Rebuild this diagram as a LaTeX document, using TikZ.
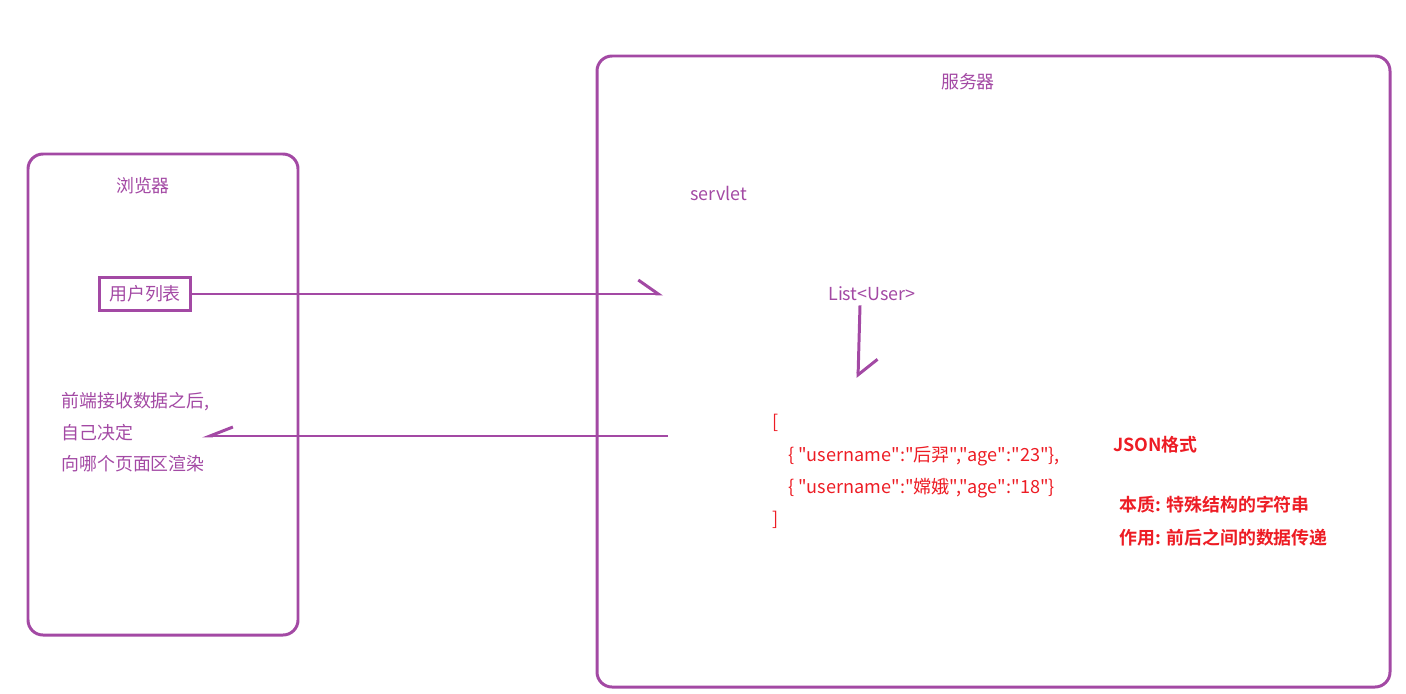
\documentclass[tikz,border=0pt]{standalone}
\usepackage{fontspec}
\setmainfont{Noto Sans CJK SC}[BoldFont={Noto Sans CJK SC Bold}]
\newfontfamily\jsonfont{Noto Sans CJK SC}[Ligatures=ResetAll]
\usetikzlibrary{arrows.meta}

\definecolor{paintpurple}{RGB}{163,73,164}
\definecolor{paintred}{RGB}{237,28,36}

\tikzset{
  panel/.style={draw=paintpurple, line width=1.7pt, rounded corners=0.3cm},
  label/.style={text=paintpurple, font=\fontsize{10.2}{18}\selectfont, inner sep=0pt},
  redtext/.style={text=paintred, font=\fontsize{10.2}{18.3}\selectfont, inner sep=0pt},
  link/.style={draw=paintpurple, line width=1.7pt},
}

\begin{document}
\begin{tikzpicture}[x=0.02cm, y=-0.02cm]
	\useasboundingbox (0,0) rectangle (1406,693);

	% browser
	\draw[panel] (28,154) rectangle (298,635);
	\node[label] (browser) at (143,186) {浏览器};
	\node[label, draw=paintpurple, line width=1.7pt, inner xsep=0.19cm, inner ysep=0.16cm] (userlist) at (145,294) {用户列表};
	\node[label, anchor=west, align=left] (note) at (61,432.5) {前端接收数据之后,\\自己决定\\向哪个页面区渲染};

	% server
	\draw[panel] (597,56) rectangle (1390,687);
	\node[label] (server) at (968,82) {服务器};
	\node[label, anchor=west] (servlet) at (690,193) {servlet};
	\node[label] (list) at (872,294) {List<User>};
	\node[redtext, anchor=west, align=left, font=\jsonfont\fontsize{10.3}{18.3}\selectfont] (json) at (772,471.5) {[\\\hspace{9pt}\{ "username":"后羿","age":"23"\},\\\hspace{9pt}\{ "username":"嫦娥","age":"18"\}\\]};

	\node[redtext, anchor=west, font=\bfseries\fontsize{10.2}{18}\selectfont] (format) at (1113,445) {JSON格式};
	\node[redtext, anchor=west, align=left, font=\bfseries\fontsize{10.2}{18.6}\selectfont] (essence) at (1119,521.5) {本质: 特殊结构的字符串\\作用: 前后之间的数据传递};

	% requests and replies
	\coordinate (request) at (663,294);
	\coordinate (converted) at (858,378);
	\coordinate (reply) at (668,436);
	\coordinate (render) at (202,436);
	\draw[link, -{Straight Barb[harpoon, length=0.4cm, width=0.56cm]}] (userlist.east) to (request);
	\draw[link, -{Straight Barb[harpoon, length=0.32cm, width=0.76cm]}] (list.south -| 860,0) ++(0,4) to (converted);
	\draw[link, -{Straight Barb[harpoon, swap, length=0.46cm, width=0.36cm]}] (reply) to (render);
\end{tikzpicture}
\end{document}
